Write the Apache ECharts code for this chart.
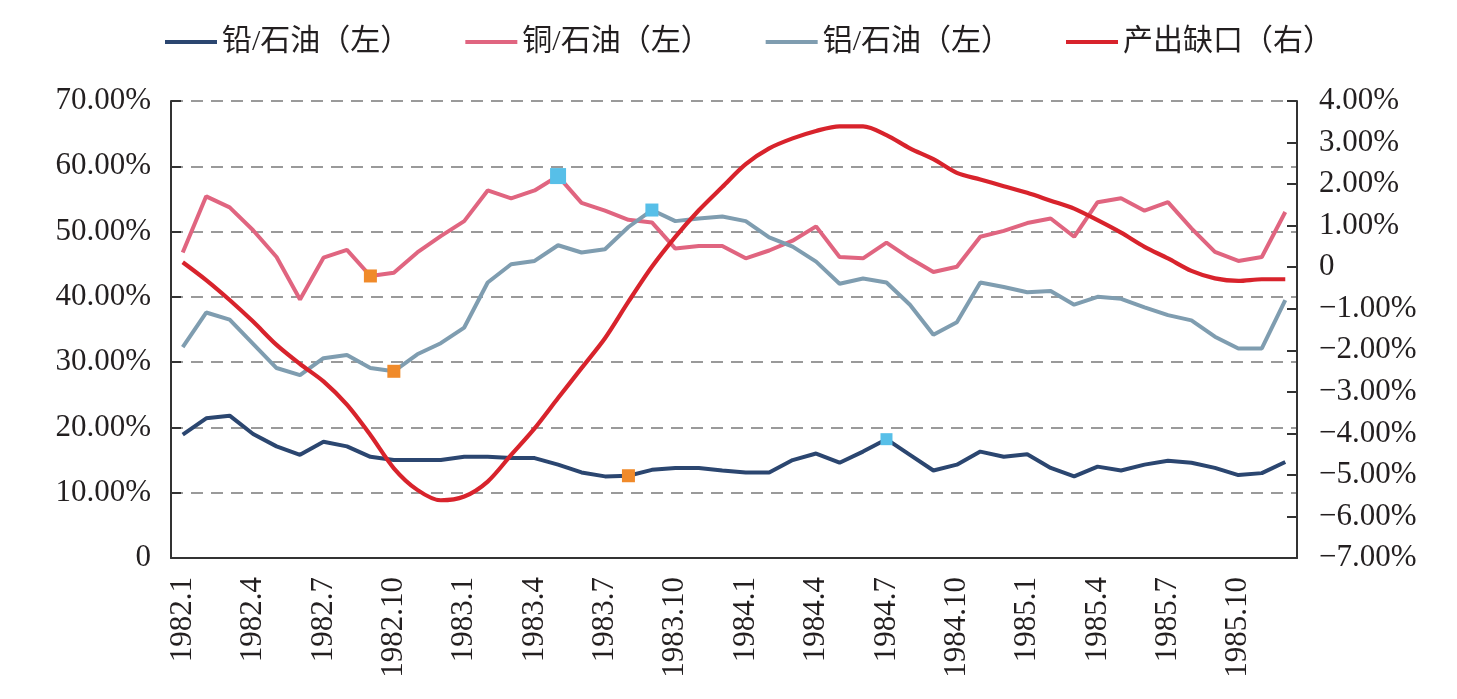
<!DOCTYPE html>
<html>
<head>
<meta charset="utf-8">
<script src="https://cdn.jsdelivr.net/npm/echarts@6/dist/echarts.min.js"></script>
<style>
  html, body { margin: 0; padding: 0; background: #fff; }
  #chart { width: 1457px; height: 699px; }
</style>
</head>
<body>
<div id="chart"></div>
<script>
// 月份（1982.1 - 1985.12）
var months = [
  '1982.1','1982.2','1982.3','1982.4','1982.5','1982.6','1982.7','1982.8','1982.9','1982.10','1982.11','1982.12',
  '1983.1','1983.2','1983.3','1983.4','1983.5','1983.6','1983.7','1983.8','1983.9','1983.10','1983.11','1983.12',
  '1984.1','1984.2','1984.3','1984.4','1984.5','1984.6','1984.7','1984.8','1984.9','1984.10','1984.11','1984.12',
  '1985.1','1985.2','1985.3','1985.4','1985.5','1985.6','1985.7','1985.8','1985.9','1985.10','1985.11','1985.12'
];

// 左轴（%）
var leadOil = [18.9, 21.4, 21.8, 19.0, 17.1, 15.8, 17.8, 17.1, 15.5, 15.0,
  15.0, 15.0, 15.5, 15.5, 15.3, 15.3, 14.3, 13.1, 12.5, 12.6,
  13.5, 13.8, 13.8, 13.4, 13.1, 13.1, 15.0, 16.0, 14.6, 16.3,
  18.2, 15.8, 13.4, 14.3, 16.3, 15.5, 15.9, 13.8, 12.5, 14.0,
  13.4, 14.3, 14.9, 14.6, 13.8, 12.7, 13.0, 14.7];
var copperOil = [46.8, 55.4, 53.7, 50.2, 46.1, 39.6, 46.0, 47.2, 43.2, 43.7,
  46.8, 49.3, 51.6, 56.3, 55.1, 56.3, 58.5, 54.4, 53.2, 51.8,
  51.4, 47.4, 47.8, 47.8, 45.9, 47.1, 48.6, 50.8, 46.1, 45.9,
  48.3, 45.9, 43.8, 44.6, 49.2, 50.1, 51.3, 52.0, 49.2, 54.5,
  55.1, 53.2, 54.5, 50.5, 46.9, 45.5, 46.1, 53.0];
var aluOil = [32.3, 37.6, 36.5, 32.8, 29.1, 28.0, 30.6, 31.1, 29.1, 28.6,
  31.2, 32.9, 35.3, 42.2, 45.0, 45.5, 47.9, 46.8, 47.3, 50.7,
  53.3, 51.6, 52.0, 52.3, 51.6, 49.1, 47.7, 45.4, 42.0, 42.8,
  42.2, 38.8, 34.2, 36.1, 42.2, 41.5, 40.7, 40.9, 38.8, 40.0,
  39.7, 38.4, 37.2, 36.4, 33.9, 32.1, 32.1, 39.5];
// 右轴（%）
var outputGap = [0.12, -0.31, -0.79, -1.31, -1.87, -2.33, -2.75, -3.31, -4.04, -4.84,
  -5.36, -5.61, -5.52, -5.16, -4.52, -3.88, -3.15, -2.43, -1.71, -0.83,
  0.01, 0.73, 1.37, 1.93, 2.48, 2.86, 3.10, 3.28, 3.39, 3.39,
  3.18, 2.86, 2.60, 2.27, 2.11, 1.95, 1.79, 1.60, 1.41, 1.13,
  0.83, 0.49, 0.21, -0.09, -0.27, -0.33, -0.29, -0.29];

var leftTicks = [0, 10, 20, 30, 40, 50, 60, 70];
var rightTicks = [-7, -6, -5, -4, -3, -2, -1, 0, 1, 2, 3, 4];

var ORANGE = '#f08a2a', CYAN = '#57bfe8';
var serif = "'Liberation Serif', 'Times New Roman', 'Noto Sans CJK SC', serif";

// 标记点（下标 -> 样式）
function marked(arr, marks) {
  return arr.map(function (v, i) {
    var m = marks[i];
    if (!m) return v;
    return { value: v, symbol: 'rect', symbolSize: m.size, itemStyle: { color: m.color } };
  });
}

function lineSeries(name, color, data, extra) {
  var s = {
    name: name,
    type: 'line',
    data: data,
    symbol: 'none',
    showSymbol: true,
    showAllSymbol: true,
    lineStyle: { color: color, width: 4 },
    itemStyle: { color: color },
    emphasis: { disabled: true },
    animation: false
  };
  for (var k in extra) s[k] = extra[k];
  return s;
}

var myChart = echarts.init(document.getElementById('chart'));
myChart.setOption({
  backgroundColor: '#fff',
  textStyle: { fontFamily: serif, color: '#231f20' },
  legend: {
    left: 160,
    top: 22,
    itemWidth: 52,
    itemHeight: 4,
    itemGap: 55,
    icon: 'rect',
    textStyle: { fontSize: 30, color: '#231f20', fontFamily: serif },
    data: ['铅/石油（左）', '铜/石油（左）', '铝/石油（左）', '产出缺口（右）']
  },
  grid: { left: 171, right: 160, top: 101, bottom: 141 },
  xAxis: {
    type: 'category',
    data: months,
    boundaryGap: true,
    axisLine: { lineStyle: { color: '#333', width: 2 } },
    axisTick: { show: false },
    axisLabel: {
      interval: 2,
      rotate: 90,
      margin: 19,
      fontSize: 31,
      color: '#231f20',
      fontFamily: serif
    }
  },
  yAxis: [
    {
      type: 'value',
      min: leftTicks[0],
      max: leftTicks[leftTicks.length - 1],
      interval: 10,
      axisLine: { show: true, lineStyle: { color: '#333', width: 2 } },
      axisTick: { show: true, inside: true, length: 10, lineStyle: { color: '#333', width: 2 } },
      splitLine: { show: true, lineStyle: { color: '#9a9a9a', width: 2, type: [12, 8] } },
      axisLabel: {
        margin: 20,
        fontSize: 31,
        color: '#231f20',
        fontFamily: serif,
        formatter: function (v) { return v === 0 ? '0' : v.toFixed(2) + '%'; }
      }
    },
    {
      type: 'value',
      position: 'right',
      min: rightTicks[0],
      max: rightTicks[rightTicks.length - 1],
      interval: 1,
      axisLine: { show: true, lineStyle: { color: '#333', width: 2 } },
      axisTick: { show: true, inside: true, length: 10, lineStyle: { color: '#333', width: 2 } },
      splitLine: { show: false },
      axisLabel: {
        margin: 22,
        fontSize: 31,
        color: '#231f20',
        fontFamily: serif,
        formatter: function (v) {
          if (v === 0) return '0';
          return (v < 0 ? '\u2212' : '') + Math.abs(v).toFixed(2) + '%';
        }
      }
    }
  ],
  series: [
    lineSeries('铅/石油（左）', '#2b4670', marked(leadOil, {
      19: { color: ORANGE, size: 13 },
      30: { color: CYAN, size: 12 }
    })),
    lineSeries('铜/石油（左）', '#e06580', marked(copperOil, {
      8: { color: ORANGE, size: 13 },
      16: { color: CYAN, size: 16 }
    })),
    lineSeries('铝/石油（左）', '#7f9db0', marked(aluOil, {
      9: { color: ORANGE, size: 13 },
      20: { color: CYAN, size: 13 }
    })),
    lineSeries('产出缺口（右）', '#d8232c', outputGap, {
      yAxisIndex: 1,
      smooth: 0.3,
      lineStyle: { color: '#d8232c', width: 4.2 }
    })
  ]
});
</script>
</body>
</html>
